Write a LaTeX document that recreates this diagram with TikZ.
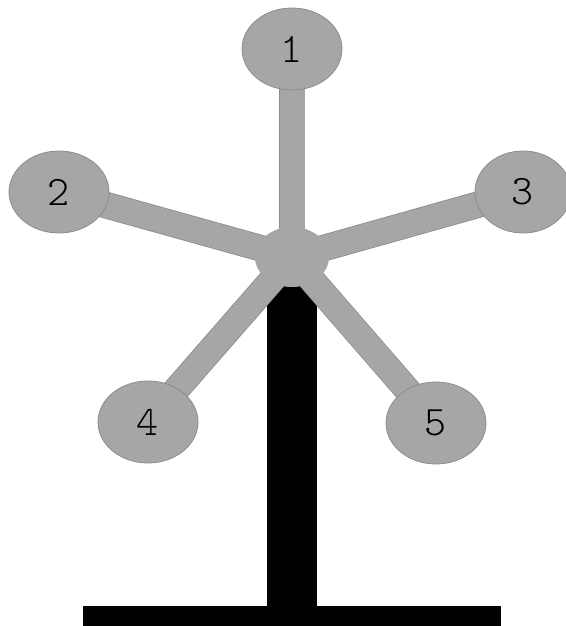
\documentclass[tikz,border=0pt]{standalone}
\usetikzlibrary{shapes.geometric}
\definecolor{armgray}{HTML}{A6A6A6}
\definecolor{edgegray}{HTML}{8C8C8C}
\begin{document}
\begin{tikzpicture}[x=1pt,y=-1pt,
  ball/.style={ellipse, fill=armgray, draw=edgegray, line width=0.8pt,
    minimum width=100pt, minimum height=82pt, inner sep=0pt,
    font=\ttfamily\fontseries{l}\fontsize{42}{44}\selectfont},
  hubnode/.style={ellipse, fill=armgray, draw=none, minimum width=74pt, minimum height=60pt, inner sep=0pt},
  arm/.style={draw=edgegray, line width=0.8pt, double=armgray, double distance=25pt},
  blackpart/.style={fill=black, draw=none}]
\useasboundingbox (0,0) rectangle (565,626);
% stand
\node[blackpart, rectangle, minimum width=50pt, minimum height=331pt, inner sep=0pt, anchor=north west] (post) at (267,275) {};
\node[blackpart, rectangle, minimum width=418pt, minimum height=22pt, inner sep=0pt, anchor=north west] (base) at (83,606) {};
% nodes
\coordinate (hc) at (292,257);
\coordinate (c1) at (292,49);
\coordinate (c2) at (59,192);
\coordinate (c3) at (523,192);
\coordinate (c4) at (148,422);
\coordinate (c5) at (436,423);
% arms
\foreach \i in {1,...,5} {\draw[arm] (hc) -- (c\i);}
\node[hubnode] (hub) at (hc) {};
\node[ball] (n1) at (c1) {1};
\node[ball] (n2) at (c2) {2};
\node[ball, minimum width=96pt] (n3) at (c3) {3};
\node[ball] (n4) at (c4) {4};
\node[ball] (n5) at (c5) {5};
\end{tikzpicture}
\end{document}
